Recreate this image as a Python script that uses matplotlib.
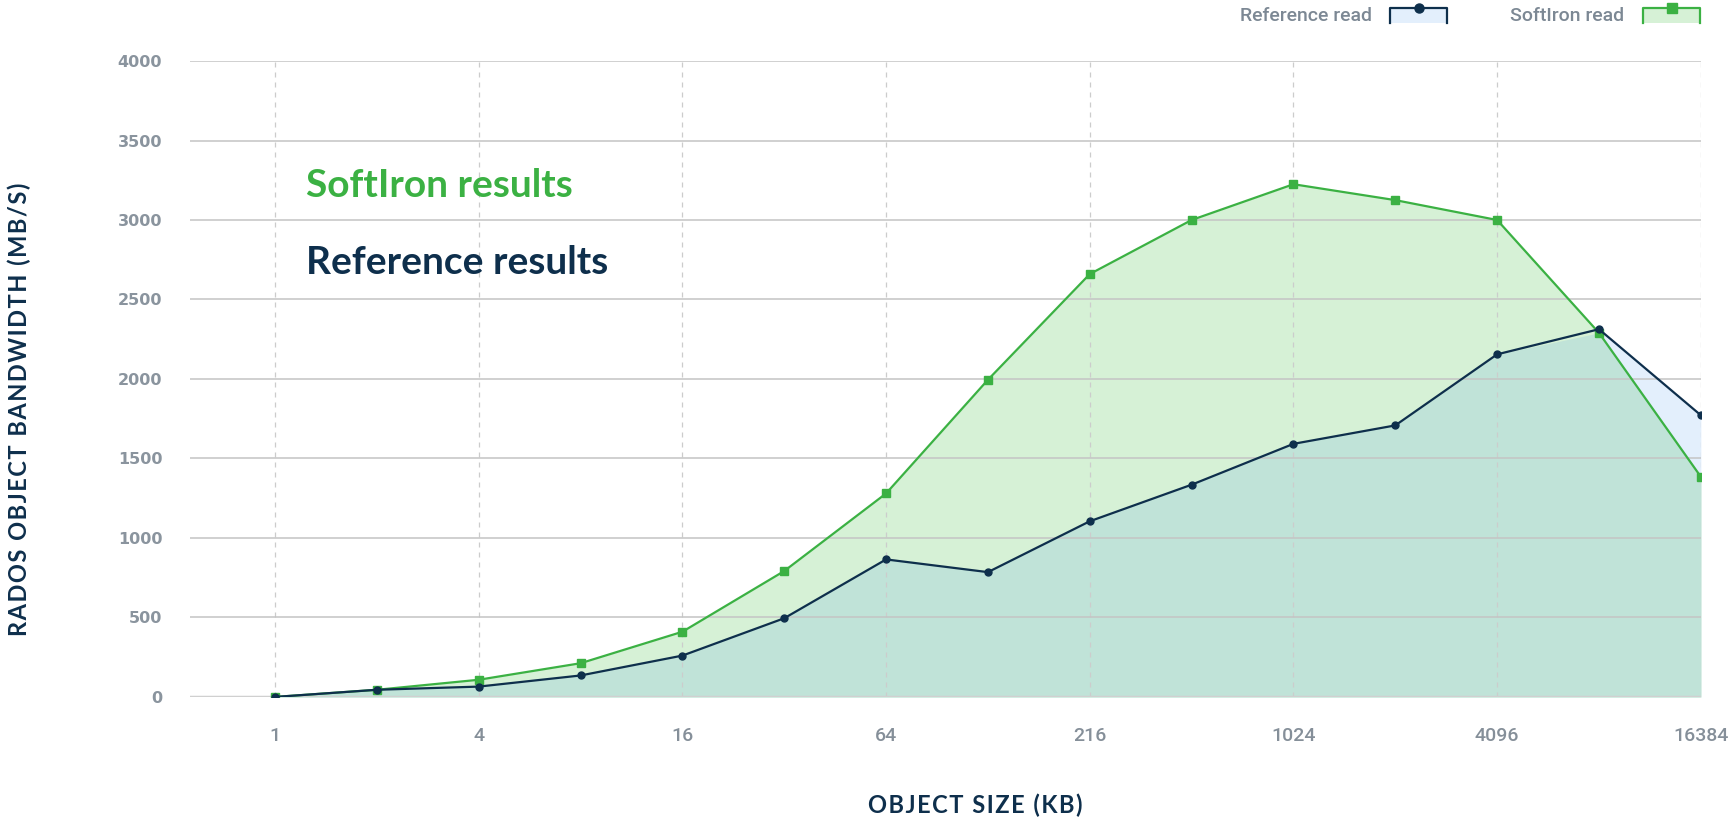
import numpy as np
import matplotlib
matplotlib.use("Agg")
import matplotlib.pyplot as plt
from matplotlib.patches import Rectangle
from matplotlib.lines import Line2D

# object sizes in KB (evenly spaced on the chart)
sizes = ["1", "2", "4", "8", "16", "32", "64", "128", "256", "512",
         "1024", "2048", "4096", "8192", "16384"]
tick_labels = ["1", "4", "16", "64", "216", "1024", "4096", "16384"]

reference_read = [0, 45, 65, 135, 260, 495, 865, 785, 1105, 1335, 1592, 1708, 2155, 2313, 1772]
softiron_read = [0, 45, 108, 212, 410, 792, 1280, 1995, 2660, 3000, 3225, 3125, 3000, 2290, 1385]

NAVY = "#0e2f4c"
GREEN = "#3bb143"
GREY = "#8a949e"
HS = "\u200a"  # hair space, used for letter spacing


def spaced(s):
    return HS.join(s)


x = np.arange(len(sizes))
ref = np.array(reference_read, dtype=float)
soft = np.array(softiron_read, dtype=float)

fig = plt.figure(figsize=(17.32, 8.18), dpi=100)
ax = fig.add_axes([0.1097, 0.148, 0.982 - 0.1097, 0.9254 - 0.148])

# filled areas: blue (reference only), green (softiron only), teal overlap
ax.fill_between(x, 0, ref, color="#e3effc", linewidth=0, zorder=1)
ax.fill_between(x, 0, soft, color="#d6f1d6", linewidth=0, zorder=1)
ax.fill_between(x, 0, np.minimum(ref, soft), color="#c0e3d8", linewidth=0, zorder=2)

ax.plot(x, soft, color=GREEN, lw=1.6, marker="s", ms=5.5, zorder=5)
ax.plot(x, ref, color=NAVY, lw=1.6, marker="o", ms=5, zorder=6)

ax.set_xlim(-0.835, 14)
ax.set_ylim(0, 4000)
ax.set_yticks(np.arange(0, 4001, 500))
ax.set_xticks(x[::2])
ax.set_xticklabels(tick_labels)

for s in ax.spines.values():
    s.set_visible(False)

ax.yaxis.grid(True, color="#c4c4c4", lw=1.1, zorder=3)
ax.xaxis.grid(True, color="#cccccc", lw=0.9, ls=(0, (4, 4)), zorder=3)
ax.axhline(0, color="#d0d0d0", lw=2.5, zorder=3)
ax.set_axisbelow(False)

ax.tick_params(axis="both", length=0)
ax.tick_params(axis="y", pad=20)
ax.tick_params(axis="x", pad=22)
for lab in ax.get_yticklabels():
    lab.set_fontfamily("DejaVu Sans")
    lab.set_fontweight("bold")
    lab.set_fontsize(11.5)
    lab.set_color(GREY)
for lab in ax.get_xticklabels():
    lab.set_fontfamily("Roboto")
    lab.set_fontweight("medium")
    lab.set_fontsize(14)
    lab.set_color("#858f99")

fam = ["Lato", "DejaVu Sans"]
fig.text(0.011, 0.5, spaced("RADOS OBJECT BANDWIDTH (MB/S)"), rotation=90,
         ha="center", va="center", fontsize=17, fontweight="bold",
         color=NAVY, family=fam)
fig.text(0.563, 0.016, spaced("OBJECT SIZE (KB)"), ha="center", va="center",
         fontsize=17, fontweight="bold", color=NAVY, family=fam)

ax.text(0.077, 0.805, "SoftIron results", transform=ax.transAxes,
        fontsize=28, fontweight="bold", color=GREEN, family="Lato", va="center")
ax.text(0.077, 0.683, "Reference results", transform=ax.transAxes,
        fontsize=28, fontweight="bold", color=NAVY, family="Lato", va="center")

# legend at the top right
W, H = 1732.0, 818.0


def legend_item(label, text_right, box_left, color, face, marker):
    fig.text(text_right / W, 1 - 16 / H, label, ha="right", va="center",
             fontsize=14, fontweight="medium", color="#7c8894", family="Roboto")
    bw, bh, top = 57, 15, 8
    fig.patches.append(Rectangle((box_left / W, 1 - (top + bh) / H), bw / W, bh / H,
                                 transform=fig.transFigure, facecolor=face, lw=0))
    xs = [box_left / W, box_left / W, (box_left + bw) / W, (box_left + bw) / W]
    ys = [1 - (top + bh) / H, 1 - top / H, 1 - top / H, 1 - (top + bh) / H]
    fig.lines.append(Line2D(xs, ys, color=color, lw=1.6, transform=fig.transFigure))
    fig.lines.append(Line2D([(box_left + bw / 2) / W], [1 - top / H], marker=marker,
                            color=color, ms=6.5, transform=fig.transFigure))


legend_item("Reference read", 1372, 1390, NAVY, "#e3effc", "o")
legend_item("SoftIron read", 1624, 1643, GREEN, "#d6f1d6", "s")

fig.savefig("out.png", dpi=100)
